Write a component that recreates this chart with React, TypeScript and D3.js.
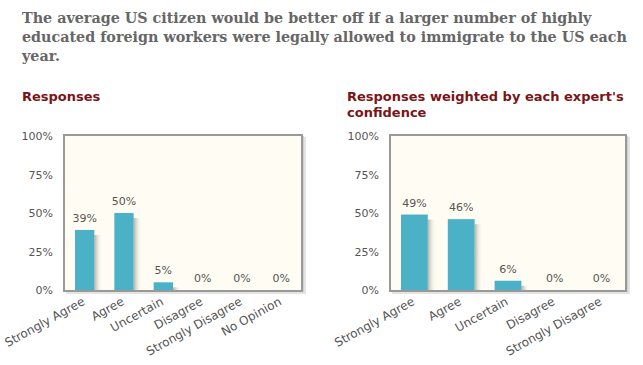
import React from "react";
import * as d3 from "d3";

const titleLines = [
  "The average US citizen would be better off if a larger number of highly",
  "educated foreign workers were legally allowed to immigrate to the US each",
  "year.",
];
const titleTargetWidths = [570, 606];

const leftTitle = ["Responses"];
const leftCategories = ["Strongly Agree", "Agree", "Uncertain", "Disagree", "Strongly Disagree", "No Opinion"];
const leftValues = [39, 50, 5, 0, 0, 0];

const rightTitle = ["Responses weighted by each expert's", "confidence"];
const rightCategories = ["Strongly Agree", "Agree", "Uncertain", "Disagree", "Strongly Disagree"];
const rightValues = [49, 46, 6, 0, 0];

const yTicks = [0, 25, 50, 75, 100];

const BAR = "#4ab1c6";
const AXIS_TEXT = "#555";
const SUB = "#7a1416";
const FONT = "'DejaVu Sans', Verdana, sans-serif";
const SERIF = "'DejaVu Serif', Georgia, serif";

function fitTitleSize(): number {
  let size = 16.5;
  try {
    const ctx = document.createElement("canvas").getContext("2d");
    if (ctx) {
      ctx.font = `bold 100px 'DejaVu Serif'`;
      titleTargetWidths.forEach((w, i) => {
        const m = ctx.measureText(titleLines[i]).width;
        if (m > 0) size = Math.min(size, (w / m) * 100);
      });
    }
  } catch (e) {
    size = 15;
  }
  return size;
}

type PanelProps = {
  id: string;
  x0: number;
  x1: number;
  titleX: number;
  title: string[];
  categories: string[];
  values: number[];
};

function Panel({ id, x0, x1, titleX, title, categories, values }: PanelProps) {
  const top = 136;
  const bottom = 290;
  const x = d3.scaleBand<string>().domain(categories).range([x0 + 1, x1 - 1]).padding(0);
  const y = d3.scaleLinear().domain([0, 100]).range([bottom, top]);
  const bw = x.bandwidth();
  const pad = 10;
  return (
    <g>
      <defs>
        <linearGradient id={`sh-${id}`} x1="0" x2="1" y1="0" y2="0">
          <stop offset="0" stopColor="#aeaba3" stopOpacity={0.95} />
          <stop offset="1" stopColor="#fffdf3" stopOpacity={0} />
        </linearGradient>
      </defs>
      {title.map((t, i) => (
        <text key={i} x={titleX} y={101 + i * 16} fontFamily={FONT} fontWeight="bold" fontSize={13} fill={SUB}>
          {t}
        </text>
      ))}
      <rect x={x0 + 2} y={top + 1} width={x1 - x0 + 2} height={bottom - top + 3} fill="#e4e4e4" />
      <rect x={x0 + 1} y={top} width={x1 - x0 + 1} height={bottom - top + 2} fill="#d0d0d0" />
      <rect x={x0} y={top - 1} width={x1 - x0} height={bottom - top + 2} fill="#fffdf3" stroke="#999" strokeWidth={2} />
      {yTicks.map((t) => (
        <text key={t} x={x0 - 11} y={y(t) + 4} textAnchor="end" fontFamily={FONT} fontSize={11} fill={AXIS_TEXT}>
          {t}%
        </text>
      ))}
      {categories.map((c, i) => {
        const v = values[i];
        const bx = (x(c) as number) + pad;
        const w = bw - 2 * pad;
        const yt = y(v);
        return (
          <g key={c}>
            {v > 0 && (
              <rect x={bx + w} y={Math.min(yt + 5, bottom)} width={8} height={Math.max(bottom - yt - 5, 0)} fill={`url(#sh-${id})`} />
            )}
            {v > 0 && <rect x={bx} y={yt} width={w} height={bottom - yt} fill={BAR} />}
            <text x={bx + w / 2} y={yt - 8} textAnchor="middle" fontFamily={FONT} fontSize={11} fill={AXIS_TEXT}>
              {v}%
            </text>
            <text
              transform={`translate(${(x(c) as number) + bw / 2 + 1},${bottom + 14}) rotate(-29)`}
              textAnchor="end"
              fontFamily={FONT}
              fontSize={12}
              fill={AXIS_TEXT}
            >
              {c}
            </text>
          </g>
        );
      })}
      <rect x={x0} y={top - 1} width={x1 - x0} height={bottom - top + 2} fill="none" stroke="#999" strokeWidth={2} />
    </g>
  );
}

export default function App() {
  const titleSize = fitTitleSize();
  return (
    <svg width={643} height={365} style={{ position: "absolute", left: 0, top: 0, background: "#fff" }}>
      {titleLines.map((t, i) => (
        <text key={i} x={22} y={23 + i * 19} fontFamily={SERIF} fontWeight="bold" fontSize={titleSize} fill="#666">
          {t}
        </text>
      ))}
      <Panel id="l" x0={64} x1={302} titleX={22} title={leftTitle} categories={leftCategories} values={leftValues} />
      <Panel id="r" x0={390} x1={626} titleX={347} title={rightTitle} categories={rightCategories} values={rightValues} />
    </svg>
  );
}
